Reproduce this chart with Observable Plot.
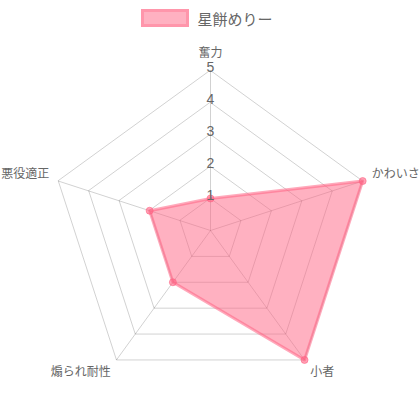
<!DOCTYPE html>
<html>
<head>
<meta charset="utf-8">
<script src="https://cdn.jsdelivr.net/npm/d3@7"></script>
<script src="https://cdn.jsdelivr.net/npm/@observablehq/plot@0.6"></script>
<style>
  html, body { margin: 0; padding: 0; background: #fff; }
  #wrap { width: 420px; height: 420px; font-family: "Liberation Sans", "Noto Sans CJK JP", sans-serif; }
  #legend { height: 36px; display: flex; align-items: center; justify-content: center; color: #666; font-size: 15px; }
  #legend .box { width: 42px; height: 12px; background: rgba(255,99,132,0.5); border: 3px solid rgba(255,99,132,0.35); margin-right: 8px; margin-left: -6px; }
  svg { display: block; }
</style>
</head>
<body>
<div id="wrap">
  <div id="legend"><span class="box"></span><span id="legendText"></span></div>
  <div id="chart"></div>
</div>
<script>
const axes = ["奮力", "かわいさ", "小者", "煽られ耐性", "悪役適正"];
const values = [1, 5, 5, 2, 2];
const ticks = [1, 2, 3, 4, 5];
const seriesName = "星餅めりー";
const maxValue = 5;

document.getElementById("legendText").textContent = seriesName;

const n = axes.length;
const theta = i => (90 - 360 / n * i) * Math.PI / 180;
const polar = (r, i) => ({x: r * Math.cos(theta(i)), y: r * Math.sin(theta(i))});

const grid = ticks.flatMap(t => axes.map((a, i) => ({level: t, ...polar(t, i)})));
const spokes = axes.map((a, i) => ({...polar(maxValue, i)}));
const pts = values.map((v, i) => ({axis: axes[i], value: v, ...polar(v, i)}));

const labelR = maxValue * 1.06;
const labels = axes.map((a, i) => {
  const deg = (360 / n * i) % 360;
  const anchor = (deg === 0 || deg === 180) ? "middle" : (deg < 180 ? "start" : "end");
  const line = (deg === 90 || deg === 270) ? "middle" : ((deg > 270 || deg < 90) ? "bottom" : "top");
  return {text: a, anchor, line, ...polar(labelR, i)};
});

const unit = 32;
const W = 420, H = 384, cy = 194;
const textColor = "#666";

const labelMarks = [];
for (const anchor of ["start", "middle", "end"]) {
  for (const line of ["top", "middle", "bottom"]) {
    const sub = labels.filter(d => d.anchor === anchor && d.line === line);
    if (sub.length) labelMarks.push(Plot.text(sub, {
      x: "x", y: "y", text: "text", textAnchor: anchor, lineAnchor: line,
      dy: anchor === "middle" ? -4 : 0, fill: textColor, fontSize: 12
    }));
  }
}

const chart = Plot.plot({
  width: W, height: H,
  margin: 0,
  x: {domain: [-W / 2 / unit, W / 2 / unit], axis: null},
  y: {domain: [-(H - cy) / unit, cy / unit], axis: null},
  style: {fontFamily: '"Liberation Sans", "Noto Sans CJK JP", sans-serif', background: "#fff"},
  marks: [
    Plot.line(grid, {x: "x", y: "y", z: "level", curve: "linear-closed", stroke: "rgba(0,0,0,0.18)", strokeWidth: 1}),
    Plot.link(spokes, {x1: () => 0, y1: () => 0, x2: "x", y2: "y", stroke: "rgba(0,0,0,0.18)", strokeWidth: 1}),
    Plot.line(pts, {x: "x", y: "y", curve: "linear-closed", fill: "rgba(255,99,132,0.5)", stroke: "rgba(255,99,132,0.55)", strokeWidth: 3, strokeLinejoin: "round"}),
    Plot.dot(pts, {x: "x", y: "y", r: 3.5, fill: "rgba(255,99,132,0.6)", stroke: "rgba(255,99,132,0.6)", strokeWidth: 1}),
    Plot.text(ticks, {x: () => 0, y: d => d, text: d => String(d), fill: textColor, fontSize: 14, dy: -3}),
    ...labelMarks
  ]
});
document.getElementById("chart").appendChild(chart);
</script>
</body>
</html>
